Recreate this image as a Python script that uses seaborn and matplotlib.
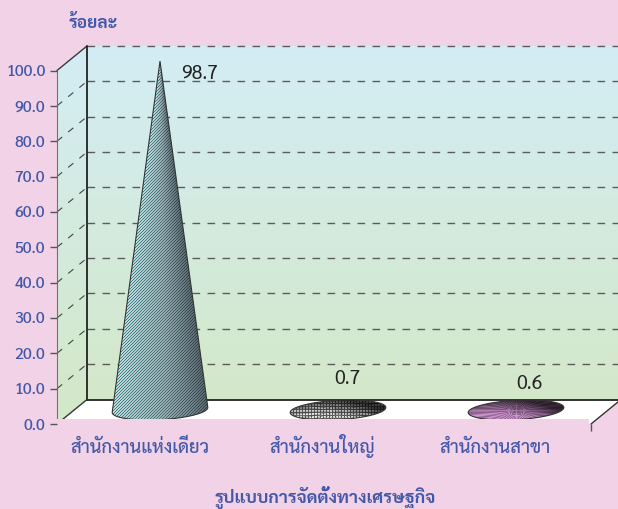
import numpy as np
import pandas as pd
import seaborn as sns
import matplotlib
matplotlib.use('Agg')
import matplotlib.pyplot as plt
from matplotlib.path import Path
from matplotlib.patches import Polygon, Rectangle
from matplotlib.transforms import Affine2D

categories = ['สำนักงานแห่งเดียว', 'สำนักงานใหญ่', 'สำนักงานสาขา']
values = [98.7, 0.7, 0.6]
y_ticks = [0, 10, 20, 30, 40, 50, 60, 70, 80, 90, 100]
y_title = 'ร้อยละ'
x_title = 'รูปแบบการจัดตั้งทางเศรษฐกิจ'

PINK = '#f1d2e6'
BLUE = '#4358a8'
FONT = ['Sarabun', 'Noto Sans Thai', 'DejaVu Sans']

sns.set_style('white')
plt.rcParams['font.family'] = FONT

W, H = 618, 509
fig = plt.figure(figsize=(W / 100, H / 100), dpi=100, facecolor=PINK)
# the axes is the front plane of the fake 3d box
ax = fig.add_axes([57 / W, (H - 424) / H, 534 / W, 353.5 / H])
ax.patch.set_alpha(0)

df = pd.DataFrame({'type': categories, 'pct': values})
sns.barplot(data=df, x='type', y='pct', width=0.52, color='white', ax=ax)
bars = list(ax.patches)
ax.set_xlim(-0.5, 2.5)
ax.set_ylim(0, 100)
ax.autoscale(False)
ax.set_xlabel('')
ax.set_ylabel('')

sx = 534 / 3
sy = 353.5 / 100

back = ax.transData + Affine2D().translate(30, 24.5)
mid = ax.transData + Affine2D().translate(14, 14)
x0, x1 = ax.get_xlim()

# walls, gradient from top of the box to the floor
c_top = np.array([0xd4, 0xed, 0xf5]) / 255
c_bot = np.array([0xd3, 0xe8, 0xc6]) / 255
g = np.linspace(0, 1, 256)[:, None, None]
grad = c_top * (1 - g) + c_bot * g
top_units = 100 + 24.5 / sy
im = ax.imshow(grad, extent=(x0, x1 + 30 / sx, 0, top_units), aspect='auto', zorder=0.5)
outline = np.vstack([
    ax.transData.transform([(x0, 0), (x0, 100)]),
    back.transform([(x0, 100), (x1, 100), (x1, 0), (x0, 0)]),
])
im.set_clip_path(Path(outline), Affine2D())
im.set_clip_box(fig.bbox)

# floor
floor = np.vstack([back.transform([(x0, 0), (x1, 0)]), ax.transData.transform([(x1, 0), (x0, 0)])])
ax.add_patch(Polygon(floor, closed=True, transform=Affine2D(), facecolor='white', edgecolor='none',
                     zorder=0.6, clip_on=False))

# grid on back and side walls
dark = '#3a3a3a'
for v in y_ticks[1:]:
    ax.plot([x0, x1], [v, v], transform=back, color='#5c5c5c', lw=1.0, ls=(0, (5.5, 5.3)),
            zorder=1, clip_on=False)
    pts = np.vstack([ax.transData.transform([(x0, v)]), back.transform([(x0, v)])])
    if v < 100:
        ax.plot(pts[:, 0], pts[:, 1], transform=Affine2D(), color='#444444', lw=0.8, ls=(0, (6, 7)),
                zorder=1, clip_on=False)
    else:
        ax.plot(pts[:, 0], pts[:, 1], transform=Affine2D(), color=dark, lw=1.0, zorder=1, clip_on=False)
for p, q in [((x0, 0), (x0, 100)), ((x0, 0), (x1, 0))]:
    ax.plot([p[0], q[0]], [p[1], q[1]], transform=back, color='#222222', lw=1.3, zorder=1.2, clip_on=False)
for xx in (x0, x1):
    pts = np.vstack([ax.transData.transform([(xx, 0)]), back.transform([(xx, 0)])])
    ax.plot(pts[:, 0], pts[:, 1], transform=Affine2D(), color='#333333', lw=1.0, zorder=1.2, clip_on=False)


def base_ring(xc, half, n=180):
    # sheared circle lying on the floor, px offsets converted to data units
    t = np.linspace(0, 2 * np.pi, n, endpoint=False)
    px = half * sx * np.cos(t) + 12 * np.sin(t)
    py = 10 * np.sin(t)
    return np.column_stack([xc + px / sx, py / sy])


def cone_outline(ring, xc, v):
    if v * sy < 12:
        return ring
    ang = np.arctan2(ring[:, 0] - xc, (v - ring[:, 1]) * sy / sx)
    a, b = np.argmin(ang), np.argmax(ang)
    # walk round the ring the way that passes the front of the base
    idx = np.arange(a, a + len(ring)) % len(ring)
    idx = idx[:np.where(idx == b)[0][0] + 1]
    arc = ring[idx]
    if arc[:, 1].min() > ring[:, 1].min() + 1e-6:
        idx = np.arange(b, b + len(ring)) % len(ring)
        idx = idx[:np.where(idx == a)[0][0] + 1]
        arc = ring[idx]
    return np.vstack([[xc, v], arc])


def cone_texture(nx, ny, v_px, half_px):
    jj, ii = np.mgrid[0:ny, 0:nx]
    row_from_tip = np.clip(jj / max(v_px, 1), 0.001, 1.0)
    x_rel = (ii - nx / 2) / (half_px * row_from_tip)
    t = np.clip((x_rel + 1) / 2, 0, 1)[..., None]
    c0 = np.array([0.20, 0.50, 0.52])
    c1 = np.array([0.28, 0.42, 0.45])
    c2 = np.array([0.17, 0.24, 0.27])
    col = np.where(t < 0.55, c0 + (c1 - c0) * t / 0.55, c1 + (c2 - c1) * (t - 0.55) / 0.45)
    stripe = ((ii + jj) % 3 != 2)[..., None]
    col = np.where(stripe, col + (1 - col) * (0.72 - 0.5 * t), col)
    return col


def disc_texture(nx, ny, bright, gridded):
    jj, ii = np.mgrid[0:ny, 0:nx]
    dx = (ii - nx / 2) / (nx / 2)
    dy = (jj - ny / 2) / (ny / 2)
    phi = np.arctan2(dy * 0.25, dx)
    # light falls on the lower middle part, the far side stays dark
    shade = np.clip(0.78 + 0.45 * dy - 0.3 * dx - 0.3 * dx ** 2, 0.28, 1)
    shade = shade * (0.85 + 0.15 * np.cos(40 * phi))
    col = shade[..., None] * np.array(bright)
    if gridded:
        mask = (ii % 3 == 0) | (jj % 3 == 0)
        col = np.where(mask[..., None], col * 0.45, col)
    return np.clip(col, 0, 1)


disc_colors = [None, (0.95, 0.95, 0.95), (0.82, 0.58, 0.82)]
label_shift = [(40, -13), (9, 29), (13, 24)]

for i, bar in enumerate(bars):
    bar.set_visible(False)
    xc = bar.get_x() + bar.get_width() / 2
    half = bar.get_width() / 2
    v = bar.get_height()
    ring = base_ring(xc, half)
    shape = cone_outline(ring, xc, v)
    ext_half = ring[:, 0].max() - xc
    y_lo, y_hi = ring[:, 1].min(), max(v, ring[:, 1].max())
    nx = int(round(2 * ext_half * sx))
    ny = int(round((y_hi - y_lo) * sy))
    if v * sy < 12:
        tex = disc_texture(nx, ny, disc_colors[i], i == 1)
    else:
        tex = cone_texture(nx, ny, v * sy, ext_half * sx)
    cone_im = ax.imshow(tex, extent=(xc - ext_half, xc + ext_half, y_lo, y_hi), aspect='auto',
                        interpolation='nearest', transform=mid, zorder=2)
    cone_im.set_clip_path(Path(mid.transform(shape)), Affine2D())
    cone_im.set_clip_box(fig.bbox)
    ax.add_patch(Polygon(shape, closed=True, transform=mid, facecolor='none', edgecolor='#333333',
                         lw=0.8, zorder=2.1, clip_on=False))
    ax.annotate('%.1f' % v, xy=(xc, v), xycoords=mid, xytext=(label_shift[i][0] * 0.72, label_shift[i][1] * 0.72),
                textcoords='offset points', ha='center', va='center', fontsize=14, color='#222222',
                zorder=3, annotation_clip=False)

# the source picture has a pink strip cut over the bottom of the box
ax.add_patch(Rectangle((51, H - 431), 538, 12, transform=Affine2D(), facecolor=PINK, edgecolor='none',
                       zorder=5, clip_on=False))

sns.despine(ax=ax, top=True, right=True, bottom=True)
ax.spines['left'].set_color('#6a7a6a')
ax.spines['left'].set_linewidth(0.8)
ax.set_yticks(y_ticks)
ax.set_yticklabels(['%.1f' % v for v in y_ticks], fontweight='medium')
ax.tick_params(axis='y', length=5, width=1, color='#555555', pad=3.5, labelsize=11.5, labelcolor=BLUE, left=True)
ax.set_xticks(range(3))
ax.set_xticklabels(categories, fontweight='medium')
ax.tick_params(axis='x', which='major', length=0, pad=21, labelsize=13.2, labelcolor=BLUE)
ax.set_xticks([x1], minor=True)
ax.tick_params(axis='x', which='minor', length=5, width=1, color='#555555', bottom=True)
shift = [-6, -2, -7]
for lab, d in zip(ax.get_xticklabels(), shift):
    lab.set_verticalalignment('baseline')
    lab.set_transform(lab.get_transform() + Affine2D().translate(d, 0))
ax.xaxis.set_zorder(6)
ax.yaxis.set_zorder(6)
ax.spines['left'].set_zorder(4)

fig.text(69 / W, 1 - 24 / H, y_title, color=BLUE, fontsize=12.5, fontweight='bold', ha='left', va='center')
fig.text(325 / W, 1 - 497 / H, x_title, color=BLUE, fontsize=12.7, fontweight='bold', ha='center', va='center')

fig.savefig('out.png', dpi=100, facecolor=PINK)
